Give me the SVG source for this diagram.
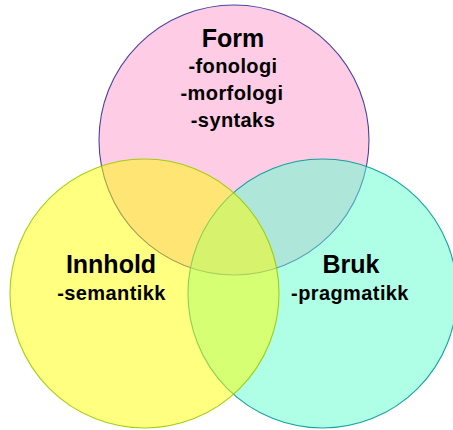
<svg xmlns="http://www.w3.org/2000/svg" width="453" height="430" viewBox="0 0 453 430">
<style>
.c{fill-opacity:0.5;stroke-width:1.1;stroke-opacity:0.9}
.t{font-family:"Liberation Sans",Arial,sans-serif;font-weight:bold;fill:#000;text-anchor:middle}
.h{font-size:25px}
.s{font-size:20px;letter-spacing:0.4px}
</style>
<rect width="453" height="430" fill="#fff"/>
<g id="form">
<circle class="c" cx="234" cy="140" r="135" fill="#FF99CD" stroke="#333399"/>
</g>
<g id="bruk">
<circle class="c" cx="322.5" cy="293.5" r="134.5" fill="#5FFFCD" stroke="#009999"/>
</g>
<g id="innhold">
<circle class="c" cx="144.5" cy="293.5" r="134.5" fill="#FFFF01" stroke="#99CC00"/>
</g>
<g id="labels">
<text class="t h" x="233" y="47">Form</text>
<text class="t s" x="233" y="73">-fonologi</text>
<text class="t s" x="232" y="100">-morfologi</text>
<text class="t s" x="233" y="127">-syntaks</text>
<text class="t h" x="111" y="273">Innhold</text>
<text class="t s" x="111.5" y="300">-semantikk</text>
<text class="t h" x="351" y="273">Bruk</text>
<text class="t s" x="350" y="300">-pragmatikk</text>
</g>
</svg>
